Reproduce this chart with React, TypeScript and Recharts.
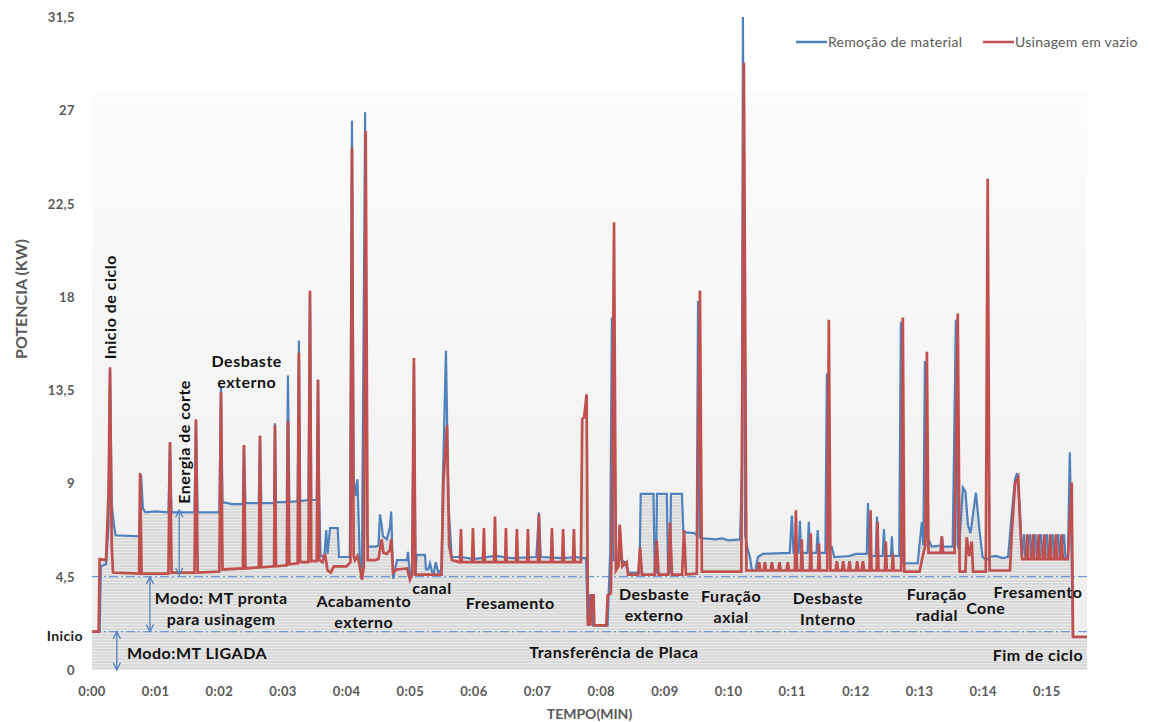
import React from "react";
import {
  ComposedChart,
  Area,
  Line,
  XAxis,
  YAxis,
  CartesianGrid,
  ReferenceLine,
  ReferenceDot,
  Legend,
} from "recharts";

type Pt = [number, number];

// tempo (min), potência (kW) — Remoção de material
const remocaoInicio: Pt[] = [
  [0, 1.85], [0.12, 1.85], [0.14, 5.0], [0.22, 5.1], [0.26, 7.0], [0.283, 14.5], [0.31, 8.0],
  [0.34, 7.1], [0.37, 6.5], [0.74, 6.45],
];
const remocaoEnergia: Pt[] = [
  [0.77, 9.4], [0.8, 7.8], [0.84, 7.6], [1.0, 7.65], [1.2, 7.6], [1.225, 10.9], [1.25, 7.6],
  [1.61, 7.6], [1.633, 12.0], [1.66, 7.6], [2.0, 7.6],
];
const remocaoDesbasteExt: Pt[] = [
  [2.026, 13.7], [2.05, 8.1], [2.2, 8.0], [2.37, 8.0], [2.387, 10.8], [2.41, 8.05], [2.62, 8.05],
  [2.639, 11.3], [2.66, 8.05], [2.86, 8.05], [2.874, 11.9], [2.89, 8.1], [3.06, 8.1], [3.078, 14.2],
  [3.1, 8.1], [3.23, 8.15], [3.25, 15.9], [3.27, 8.15], [3.4, 8.2], [3.424, 18.2], [3.445, 8.2],
  [3.53, 8.2], [3.55, 14.0], [3.57, 8.2], [3.59, 5.5],
];
const remocaoAcabamento: Pt[] = [
  [3.65, 5.5], [3.68, 6.75], [3.7, 5.6], [3.74, 6.85], [3.86, 6.85], [3.88, 5.45], [4.05, 5.45],
  [4.084, 26.5], [4.11, 9.3], [4.14, 8.4], [4.17, 9.2], [4.21, 5.0], [4.24, 4.7], [4.29, 26.9],
  [4.32, 6.5], [4.34, 5.95], [4.45, 5.95], [4.5, 6.0], [4.523, 7.5], [4.55, 7.0], [4.57, 6.45],
  [4.63, 6.3], [4.68, 6.9], [4.7, 7.65], [4.73, 4.4], [4.79, 5.3], [4.95, 5.3], [4.963, 5.7],
  [4.995, 4.6], [5.03, 4.6], [5.057, 14.8], [5.08, 4.6],
];
const remocaoCanal: Pt[] = [
  [5.1, 5.55], [5.23, 5.55], [5.246, 4.85], [5.28, 4.85], [5.31, 5.15], [5.34, 4.75], [5.37, 4.7],
  [5.4, 5.2], [5.44, 4.7], [5.49, 4.85], [5.513, 9.3], [5.56, 15.4], [5.6, 8.0], [5.65, 5.45],
];
const remocaoFresamento: Pt[] = [
  [5.8, 5.45], [6.0, 5.35], [6.33, 5.5], [6.6, 5.4], [6.98, 5.45], [7.02, 7.6], [7.05, 5.45],
  [7.4, 5.4], [7.6, 5.45], [7.7, 5.4], [7.76, 5.4],
];
const remocaoTransferencia: Pt[] = [
  [7.79, 2.2], [7.81, 2.2], [7.82, 3.6], [7.86, 3.6], [7.87, 2.15], [8.1, 2.15], [8.12, 4.0],
  [8.14, 5.7], [8.167, 17.0], [8.19, 5.3],
];
const remocaoDesbasteExt2: Pt[] = [
  [8.27, 5.3], [8.29, 7.0], [8.31, 5.3], [8.38, 5.2], [8.42, 4.7], [8.6, 4.7], [8.62, 8.5],
  [8.82, 8.5], [8.84, 4.7], [8.86, 4.7], [8.874, 8.5], [9.03, 8.5], [9.05, 4.7], [9.08, 4.7],
  [9.094, 8.5], [9.267, 8.5], [9.29, 6.65], [9.46, 6.6], [9.5, 6.5], [9.52, 17.8], [9.55, 6.4],
];
const remocaoFuracaoAxial: Pt[] = [
  [9.6, 6.35], [9.8, 6.3], [9.9, 6.35], [10.0, 6.25], [10.18, 6.3], [10.21, 9.75], [10.225, 31.5],
  [10.26, 6.5], [10.29, 5.95], [10.335, 5.45], [10.366, 4.8], [10.42, 4.8], [10.46, 5.45],
  [10.54, 5.6], [10.96, 5.65],
];
const remocaoDesbasteInt: Pt[] = [
  [10.994, 7.45], [11.02, 5.65], [11.1, 5.65], [11.12, 7.2], [11.14, 5.65], [11.24, 5.65],
  [11.26, 7.15], [11.28, 5.65], [11.38, 5.65], [11.4, 6.75], [11.42, 5.65], [11.52, 5.65],
  [11.544, 14.3], [11.57, 6.0], [11.62, 5.95], [11.66, 5.45], [11.9, 5.5], [12.0, 5.6],
  [12.17, 5.6], [12.19, 8.05], [12.21, 5.5], [12.31, 5.5], [12.33, 7.4], [12.35, 5.5],
  [12.42, 5.5], [12.44, 6.8], [12.46, 5.5], [12.55, 5.5], [12.565, 6.45], [12.58, 5.5],
  [12.68, 5.5], [12.706, 16.8], [12.73, 5.2],
];
const remocaoFuracaoRadial: Pt[] = [
  [12.77, 5.15], [12.97, 5.15], [13.036, 7.15], [13.06, 6.0], [13.083, 14.9], [13.11, 6.5],
  [13.19, 5.95], [13.33, 6.0], [13.35, 6.45], [13.37, 5.95], [13.52, 5.95], [13.57, 16.9],
  [13.6, 6.0], [13.62, 5.8], [13.68, 8.8], [13.72, 8.6], [13.76, 7.0], [13.8, 6.6], [13.885, 8.55],
  [13.94, 6.8], [13.99, 5.45], [14.05, 5.3], [14.1, 5.45],
];
const remocaoFresamentoFinal: Pt[] = [
  [14.2, 5.5], [14.3, 5.4], [14.39, 5.45], [14.45, 7.6], [14.5, 9.2], [14.53, 9.5], [14.575, 7.8],
  [14.607, 5.45], [14.64, 6.55], [14.66, 5.45], [14.73, 6.55], [14.75, 5.45], [14.82, 6.55],
  [14.84, 5.45], [14.91, 6.55], [14.93, 5.45], [15.0, 6.55], [15.02, 5.45], [15.09, 6.55],
  [15.11, 5.45], [15.18, 6.55], [15.2, 5.45], [15.27, 6.55], [15.29, 5.45], [15.33, 5.45],
  [15.36, 10.5], [15.41, 1.7],
];

// tempo (min), potência (kW) — Usinagem em vazio
const vazioInicio: Pt[] = [
  [0, 1.85], [0.105, 1.85], [0.12, 5.35], [0.22, 5.3], [0.26, 8.5], [0.283, 14.6], [0.31, 6.0],
  [0.33, 4.7], [0.74, 4.65],
];
const vazioEnergia: Pt[] = [
  [0.755, 9.5], [0.78, 4.65], [1.2, 4.65], [1.225, 11.0], [1.25, 4.7], [1.61, 4.7], [1.633, 12.1],
  [1.66, 4.7], [2.0, 4.75],
];
const vazioDesbasteExt: Pt[] = [
  [2.026, 13.4], [2.05, 4.85], [2.37, 4.9], [2.387, 10.85], [2.41, 4.9], [2.62, 4.95],
  [2.639, 11.3], [2.66, 4.95], [2.86, 5.0], [2.874, 11.8], [2.89, 5.0], [3.06, 5.05], [3.078, 12.0],
  [3.1, 5.1], [3.23, 5.15], [3.25, 15.3], [3.27, 5.2], [3.4, 5.2], [3.424, 18.3], [3.445, 5.25],
  [3.53, 5.25], [3.55, 14.0], [3.57, 5.3],
];
const vazioAcabamento: Pt[] = [
  [3.62, 5.2], [3.66, 5.6], [3.7, 4.8], [3.75, 4.7], [3.8, 5.0], [4.0, 5.0], [4.06, 5.2],
  [4.084, 25.2], [4.11, 5.5], [4.13, 5.3], [4.17, 5.5], [4.2, 5.1], [4.24, 4.35], [4.27, 5.0],
  [4.3, 26.0], [4.33, 5.3], [4.45, 5.3], [4.5, 5.35], [4.55, 6.3], [4.58, 5.65], [4.63, 5.6],
  [4.68, 5.8], [4.7, 6.3], [4.73, 4.7], [4.79, 4.85], [4.95, 4.9], [4.995, 4.35], [5.03, 4.6],
  [5.057, 15.05], [5.08, 4.6],
];
const vazioCanal: Pt[] = [
  [5.3, 4.6], [5.49, 4.6], [5.52, 9.0], [5.576, 11.8], [5.61, 6.0], [5.654, 5.3],
];
const vazioFresamento: Pt[] = [
  [5.78, 5.2], [5.796, 6.8], [5.81, 5.2], [5.97, 5.2], [5.984, 6.85], [6.0, 5.2], [6.14, 5.2],
  [6.157, 6.85], [6.17, 5.2], [6.315, 5.2], [6.33, 7.4], [6.345, 5.2], [6.49, 5.2], [6.502, 6.85],
  [6.515, 5.2], [6.66, 5.2], [6.675, 6.8], [6.69, 5.2], [6.835, 5.2], [6.848, 6.8], [6.86, 5.2],
  [7.005, 5.2], [7.02, 7.5], [7.035, 5.2], [7.21, 5.2], [7.225, 6.85], [7.24, 5.2], [7.385, 5.2],
  [7.4, 6.8], [7.415, 5.2], [7.555, 5.2], [7.57, 6.8], [7.585, 5.2], [7.68, 5.2],
];
const vazioTransferencia: Pt[] = [
  [7.7, 12.1], [7.73, 12.2], [7.77, 13.3], [7.79, 2.2], [7.83, 2.2], [7.85, 3.6], [7.88, 3.6],
  [7.89, 2.15], [8.08, 2.15], [8.1, 3.6], [8.15, 3.7], [8.17, 8.0], [8.2, 21.6], [8.23, 4.8],
];
const vazioDesbasteExt2: Pt[] = [
  [8.27, 5.0], [8.29, 7.0], [8.33, 5.0], [8.4, 5.2], [8.42, 4.6], [8.58, 4.6], [8.61, 5.9],
  [8.64, 4.6], [8.84, 4.6], [8.87, 6.25], [8.9, 4.6], [9.05, 4.6], [9.08, 7.1], [9.11, 4.6],
  [9.27, 4.6], [9.3, 6.75], [9.33, 4.6], [9.5, 4.65],
];
const vazioFuracaoAxial: Pt[] = [
  [9.55, 18.3], [9.58, 4.75], [10.2, 4.75], [10.24, 29.3], [10.28, 4.8], [10.46, 4.8], [10.48, 5.2],
  [10.5, 4.8], [10.55, 4.8], [10.57, 5.2], [10.59, 4.8], [10.66, 4.8], [10.68, 5.2], [10.7, 4.8],
  [10.78, 4.8], [10.8, 5.2], [10.82, 4.8], [10.91, 4.8], [10.93, 5.2], [10.95, 4.8],
];
const vazioDesbasteInt: Pt[] = [
  [11.04, 4.8], [11.057, 7.7], [11.075, 4.8], [11.135, 4.8], [11.15, 6.3], [11.165, 4.8],
  [11.275, 4.8], [11.29, 6.6], [11.305, 4.8], [11.405, 4.8], [11.42, 6.1], [11.435, 4.8],
  [11.55, 4.8], [11.575, 16.9], [11.6, 4.8], [11.68, 4.8], [11.7, 5.25], [11.72, 4.8], [11.78, 4.8],
  [11.8, 5.25], [11.82, 4.8], [11.88, 4.8], [11.9, 5.25], [11.92, 4.8], [12.0, 4.8], [12.02, 5.25],
  [12.04, 4.8], [12.09, 4.8], [12.11, 5.25], [12.13, 4.8], [12.215, 4.8], [12.23, 7.7],
  [12.245, 4.8], [12.325, 4.8], [12.34, 7.15], [12.355, 4.8], [12.455, 4.8], [12.47, 6.2],
  [12.485, 4.8], [12.565, 4.8], [12.58, 5.6], [12.595, 4.8], [12.71, 4.8], [12.737, 17.0],
  [12.76, 4.75],
];
const vazioFuracaoRadial: Pt[] = [
  [13.0, 4.75], [13.05, 5.5], [13.09, 6.0], [13.115, 15.35], [13.14, 5.65], [13.33, 5.65],
  [13.35, 6.45], [13.37, 5.65], [13.55, 5.65], [13.6, 17.2], [13.63, 4.75], [13.72, 4.75],
  [13.74, 6.4], [13.78, 5.5], [13.82, 6.2], [13.84, 4.75], [14.04, 4.75], [14.07, 23.7], [14.1, 4.8],
];
const vazioFresamentoFinal: Pt[] = [
  [14.42, 4.8], [14.45, 6.7], [14.5, 9.0], [14.55, 9.3], [14.58, 7.0], [14.61, 5.35], [14.67, 5.35],
  [14.69, 6.55], [14.71, 5.35], [14.76, 5.35], [14.78, 6.55], [14.8, 5.35], [14.85, 5.35],
  [14.87, 6.55], [14.89, 5.35], [14.94, 5.35], [14.96, 6.55], [14.98, 5.35], [15.03, 5.35],
  [15.05, 6.55], [15.07, 5.35], [15.12, 5.35], [15.14, 6.55], [15.16, 5.35], [15.21, 5.35],
  [15.23, 6.55], [15.25, 5.35], [15.33, 5.35], [15.39, 9.05], [15.41, 1.6], [15.63, 1.6],
];

const remocao: Pt[] = [
  ...remocaoInicio, ...remocaoEnergia, ...remocaoDesbasteExt, ...remocaoAcabamento,
  ...remocaoCanal, ...remocaoFresamento, ...remocaoTransferencia, ...remocaoDesbasteExt2,
  ...remocaoFuracaoAxial, ...remocaoDesbasteInt, ...remocaoFuracaoRadial, ...remocaoFresamentoFinal,
];
const vazio: Pt[] = [
  ...vazioInicio, ...vazioEnergia, ...vazioDesbasteExt, ...vazioAcabamento, ...vazioCanal,
  ...vazioFresamento, ...vazioTransferencia, ...vazioDesbasteExt2, ...vazioFuracaoAxial,
  ...vazioDesbasteInt, ...vazioFuracaoRadial, ...vazioFresamentoFinal,
];

const xTicks = [0, 1, 2, 3, 4, 5, 6, 7, 8, 9, 10, 11, 12, 13, 14, 15];
const xTickLabels = [
  "0:00", "0:01", "0:02", "0:03", "0:04", "0:05", "0:06", "0:07",
  "0:08", "0:09", "0:10", "0:11", "0:12", "0:13", "0:14", "0:15",
];
const yTicks = [0, 1.85, 4.5, 9, 13.5, 18, 22.5, 27, 31.5];
const yTickLabels = ["0", "Inicio", "4,5", "9", "13,5", "18", "22,5", "27", "31,5"];

const INICIO = 1.85;
const PRONTA = 4.5;

// etapas do ciclo: texto, tempo, potência, vertical?
const etapas: { lines: string[]; t: number; v: number; vertical?: boolean }[] = [
  { lines: ["Inicio de ciclo"], t: 0.27, v: 17.5, vertical: true },
  { lines: ["Energia de corte"], t: 1.43, v: 11.0, vertical: true },
  { lines: ["Desbaste", "externo"], t: 2.43, v: 14.47 },
  { lines: ["Modo: MT pronta", "para usinagem"], t: 2.03, v: 3.0 },
  { lines: ["Modo:MT LIGADA"], t: 1.65, v: 0.87 },
  { lines: ["Acabamento", "externo"], t: 4.27, v: 2.85 },
  { lines: ["canal"], t: 5.34, v: 4.0 },
  { lines: ["Fresamento"], t: 6.57, v: 3.28 },
  { lines: ["Desbaste", "externo"], t: 8.83, v: 3.21 },
  { lines: ["Furação", "axial"], t: 10.04, v: 3.09 },
  { lines: ["Desbaste", "Interno"], t: 11.56, v: 3.01 },
  { lines: ["Furação", "radial"], t: 13.27, v: 3.21 },
  { lines: ["Cone"], t: 14.04, v: 3.04 },
  { lines: ["Fresamento"], t: 14.86, v: 3.81 },
  { lines: ["Transferência de Placa"], t: 8.2, v: 0.92 },
  { lines: ["Fim de ciclo"], t: 14.86, v: 0.77 },
];

// setas de energia: tempo, potência inicial e final
const setas: { t: number; from: number; to: number }[] = [
  { t: 1.37, from: 7.72, to: 4.58 },
  { t: 0.91, from: PRONTA, to: INICIO },
  { t: 0.39, from: INICIO, to: 0 },
];

type Row = { t: number; remocao?: number; vazio?: number };

function buildRows(): Row[] {
  const rows = new Map<number, Row>();
  for (const [t, v] of remocao) {
    const r = rows.get(t) ?? { t };
    r.remocao = v;
    rows.set(t, r);
  }
  for (const [t, v] of vazio) {
    const r = rows.get(t) ?? { t };
    r.vazio = v;
    rows.set(t, r);
  }
  return [...rows.values()].sort((a, b) => a.t - b.t);
}

const rows = buildRows();

const FONT = "Lato, 'Open Sans', sans-serif";
const AXIS_GRAY = "#595959";
const BLUE = "#4f81bd";
const RED = "#c0504d";

function XTick(props: any) {
  const { x, y, payload } = props;
  const label = xTickLabels[xTicks.indexOf(payload.value)];
  return (
    <text x={x} y={y} textAnchor="middle" dominantBaseline="central" fill={AXIS_GRAY}
      fontSize={13} fontWeight="bold" fontFamily={FONT} letterSpacing={0.4}>
      {label}
    </text>
  );
}

function YTick(props: any) {
  const { x, y, payload } = props;
  const label = yTickLabels[yTicks.indexOf(payload.value)];
  const inicio = label === "Inicio";
  return (
    <text x={inicio ? x + 8 : x} y={inicio ? y + 3.5 : y} textAnchor="end" dominantBaseline="central"
      fill={inicio ? "#1a1a1a" : AXIS_GRAY} fontSize={inicio ? 14 : 13} fontWeight="bold"
      fontFamily={FONT} letterSpacing={0.4}>
      {label}
    </text>
  );
}

function renderEtapa(lines: string[], vertical?: boolean) {
  return (p: any) => {
    const { cx, cy } = p;
    const step = 21;
    const first = -((lines.length - 1) * step) / 2;
    return (
      <text x={cx} y={cy} textAnchor="middle" dominantBaseline="central" fill="#111"
        fontSize={16} fontWeight="bold" fontFamily={FONT} letterSpacing={0.5}
        transform={vertical ? `rotate(-90, ${cx}, ${cy})` : undefined}>
        {lines.map((l, i) => (
          <tspan key={i} x={cx} y={cy + first + i * step}>{l}</tspan>
        ))}
      </text>
    );
  };
}

function renderLegend(props: any) {
  const items = (props.payload || []).filter((p: any) => p.type !== "none");
  return (
    <div style={{ display: "flex", fontFamily: FONT, fontSize: 14, color: AXIS_GRAY, letterSpacing: 0.3 }}>
      {items.map((it: any, i: number) => (
        <div key={i} style={{ display: "flex", alignItems: "center", width: i === 0 ? 187 : 160 }}>
          <svg width={31} height={4} style={{ marginRight: 1 }}>
            <line x1={0} y1={2} x2={31} y2={2} stroke={it.color} strokeWidth={2.5} />
          </svg>
          <span>{it.value}</span>
        </div>
      ))}
    </div>
  );
}

export default function App() {
  return (
    <div style={{ position: "absolute", left: 0, top: 0, width: 1149, height: 722, background: "#fff" }}>
      <ComposedChart width={1149} height={722} data={rows}
        margin={{ top: 17, right: 62, bottom: 22, left: 32 }}>
        <defs>
          <linearGradient id="plotBg" x1="0" y1="0" x2="0" y2="1">
            <stop offset="0" stopColor="#ffffff" />
            <stop offset="0.115" stopColor="#ffffff" />
            <stop offset="0.118" stopColor="#fcfcfc" />
            <stop offset="1" stopColor="#eeeeee" />
          </linearGradient>
          <pattern id="hatch" width="8" height="3" patternUnits="userSpaceOnUse">
            <rect width="8" height="3" fill="#dadada" />
            <rect width="8" height="1" fill="#e9e9e9" />
          </pattern>
          <marker id="arrowHead" viewBox="0 0 10 10" refX="9" refY="5" markerWidth="9"
            markerHeight="9" orient="auto-start-reverse" markerUnits="userSpaceOnUse">
            <path d="M1,1 L9,5 L1,9" fill="none" stroke={BLUE} strokeWidth="1.4" />
          </marker>
        </defs>
        <CartesianGrid horizontal={false} vertical={false} fill="url(#plotBg)" />
        <XAxis type="number" dataKey="t" domain={[0, 15.63]} ticks={xTicks} tick={<XTick />}
          axisLine={false} tickLine={false} tickSize={0} tickMargin={21} allowDataOverflow
          label={{
            content: ({ viewBox }: any) => (
              <text x={viewBox.x + viewBox.width / 2} y={viewBox.y + 43} textAnchor="middle"
                dominantBaseline="central" fill={AXIS_GRAY} fontSize={14} fontWeight="bold"
                fontFamily={FONT}>
                TEMPO(MIN)
              </text>
            ),
          }} />
        <YAxis type="number" domain={[0, 31.5]} ticks={yTicks} tick={<YTick />} width={60}
          axisLine={false} tickLine={false} tickSize={0} tickMargin={17} allowDataOverflow
          label={{
            content: () => (
              <text x={20} y={299} textAnchor="middle" dominantBaseline="central"
                transform="rotate(-90, 20, 299)" fill={AXIS_GRAY} fontSize={16} fontWeight="bold"
                fontFamily={FONT}>
                POTENCIA (KW)
              </text>
            ),
          }} />
        <Area dataKey="remocao" type="linear" connectNulls stroke="none" fill="url(#hatch)"
          fillOpacity={1} legendType="none" isAnimationActive={false} activeDot={false} />
        <Area dataKey="vazio" type="linear" connectNulls stroke="none" fill="url(#hatch)"
          fillOpacity={1} legendType="none" isAnimationActive={false} activeDot={false} />
        <ReferenceLine y={PRONTA} stroke="#6f9ad3" strokeWidth={1.3} strokeDasharray="9 3 2 3" />
        <ReferenceLine y={INICIO} stroke="#6f9ad3" strokeWidth={1.3} strokeDasharray="9 3 2 3" />
        <Line dataKey="remocao" name="Remoção de material" type="linear" connectNulls stroke={BLUE}
          strokeWidth={2.2} dot={false} activeDot={false} isAnimationActive={false} />
        <Line dataKey="vazio" name="Usinagem em vazio" type="linear" connectNulls stroke={RED}
          strokeWidth={2.7} dot={false} activeDot={false} isAnimationActive={false} />
        {setas.map((s, i) => (
          <ReferenceLine key={`seta-${i}`} segment={[{ x: s.t, y: s.from }, { x: s.t, y: s.to }]}
            stroke={BLUE} strokeWidth={1.3} markerStart="url(#arrowHead)"
            markerEnd="url(#arrowHead)" ifOverflow="visible" />
        ))}
        {etapas.map((e, i) => (
          <ReferenceDot key={`etapa-${i}`} x={e.t} y={e.v} r={0} ifOverflow="visible"
            shape={renderEtapa(e.lines, e.vertical)} />
        ))}
        <Legend layout="horizontal" verticalAlign="middle" align="center" content={renderLegend}
          wrapperStyle={{ top: 33, left: 796, width: 353, height: 18 }} />
      </ComposedChart>
    </div>
  );
}
